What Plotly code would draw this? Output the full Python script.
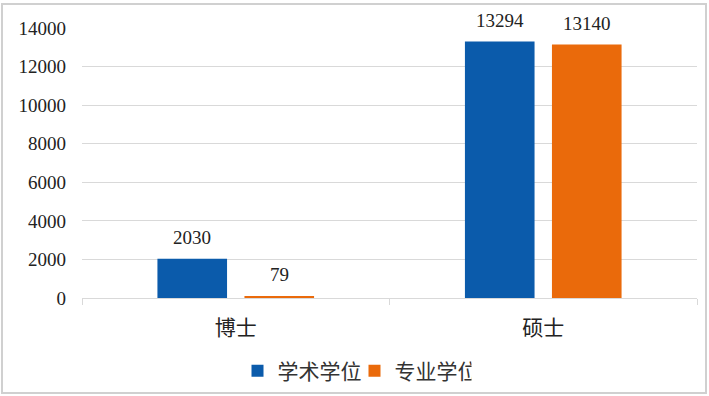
import plotly.graph_objects as go

categories = ["博士", "硕士"]
series_names = ["学术学位", "专业学位"]
academic = [2030, 13294]
professional = [79, 13140]
y_ticks = [0, 2000, 4000, 6000, 8000, 10000, 12000, 14000]

colors = ["#0B5BAB", "#EA6A0B"]
font_fam = "Liberation Serif, Noto Sans CJK SC, serif"

W, H = 709, 396
L, R, T, B = 82, 12, 28, 98
pw, ph = W - L - R, H - T - B
bargap, bargroupgap = 0.434, 0.2
slot_px = pw / len(categories) * (1 - bargap) / 2

fig = go.Figure()
all_series = [academic, professional]
for i, (name, vals, c) in enumerate(zip(series_names, all_series, colors)):
    fig.add_trace(go.Bar(
        x=categories, y=vals, name=name, marker_color=c,
        marker_line_width=0,
    ))
    off = (i - 0.5) * slot_px
    for cat, v in zip(categories, vals):
        fig.add_annotation(x=cat, y=v, xref="x", yref="y", text=str(v),
                           showarrow=False, yanchor="bottom", xanchor="center",
                           xshift=off, yshift=9,
                           font=dict(family=font_fam, size=19, color="#222222"))

fig.update_layout(
    width=W, height=H,
    margin=dict(l=L, r=R, t=T, b=B, autoexpand=False),
    paper_bgcolor="white", plot_bgcolor="white",
    barmode="group", bargap=bargap, bargroupgap=bargroupgap,
    font=dict(family=font_fam, size=19, color="#222222"),
    showlegend=True,
    legend=dict(orientation="h", xref="container", yref="container",
                x=0.5, xanchor="center", y=0.063, yanchor="middle",
                font=dict(family="Noto Sans CJK SC", size=21, color="#333333"),
                itemwidth=30, tracegroupgap=0, entrywidth=72),
    xaxis=dict(type="category", showline=True, linecolor="#D9D9D9", linewidth=1,
               ticks="outside", tickson="boundaries", ticklen=6, tickcolor="#D9D9D9",
               tickfont=dict(family="Noto Sans CJK SC", size=21, color="#222222"),
               ticklabelstandoff=11, showgrid=False, automargin=False),
    yaxis=dict(range=[0, 14000], tickvals=y_ticks, ticktext=[str(v) for v in y_ticks],
               showgrid=True, gridcolor="#D9D9D9", gridwidth=1,
               zeroline=True, zerolinecolor="#D9D9D9", zerolinewidth=1,
               showline=False, ticks="", ticklabelstandoff=15, automargin=False,
               tickfont=dict(family=font_fam, size=19, color="#222222")),
)

fig.add_shape(type="rect", xref="paper", yref="paper",
              x0=(2 - L) / pw, x1=(W - 3 - L) / pw,
              y0=-(H - 3 - T - ph) / ph, y1=1 + (T - 4) / ph,
              line=dict(color="#D0D0D0", width=2), fillcolor="rgba(0,0,0,0)", layer="below")

fig.write_html("out.html", config={"displayModeBar": False},
               post_script="document.body.style.margin='0';document.body.style.overflow='hidden';")
